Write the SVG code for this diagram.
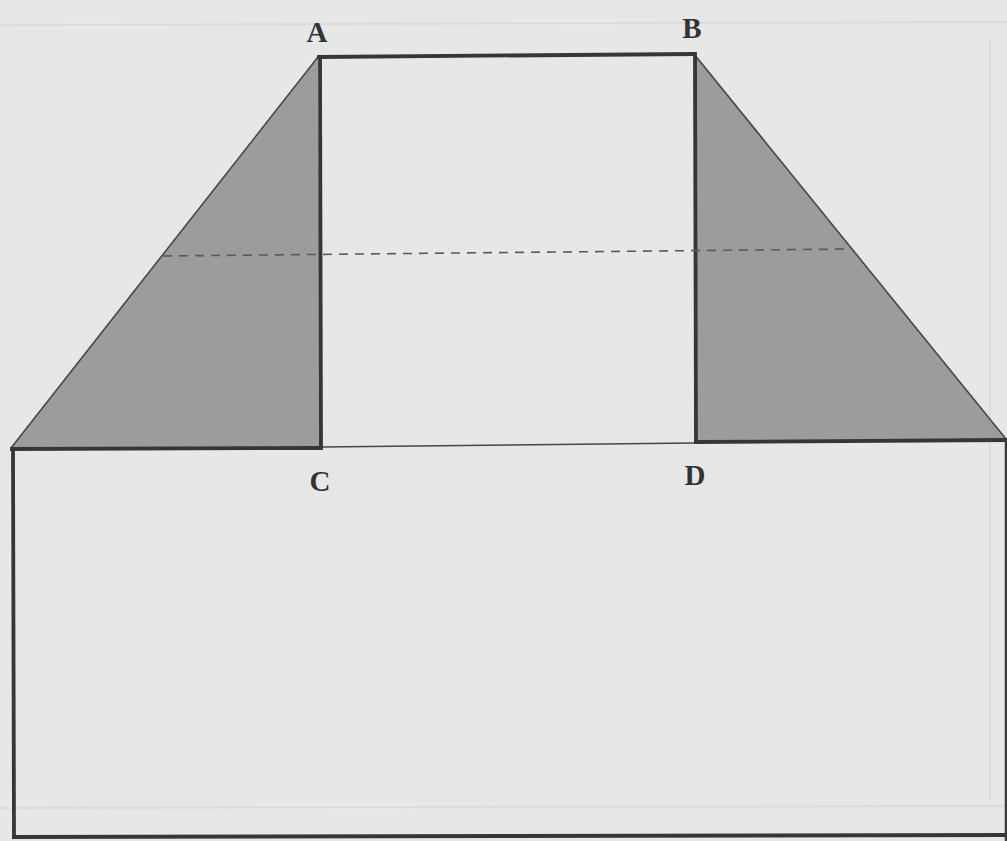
<svg xmlns="http://www.w3.org/2000/svg" width="1007" height="841" viewBox="0 0 1007 841">
  <defs>
    <style>
      .bg { fill: #e7e7e7; }
      .shade { fill: #9c9c9c; stroke: none; }
      .thick { stroke: #363636; stroke-width: 3.8; fill: none; stroke-linecap: square; }
      .thin { stroke: #474747; stroke-width: 1.6; fill: none; }
      .dash { stroke: #5a5a5a; stroke-width: 1.6; fill: none; stroke-dasharray: 9 7; }
      .label { font-family: "Liberation Serif", serif; font-weight: bold; font-size: 29px; fill: #333; text-anchor: middle; }
    </style>
  </defs>
  <rect class="bg" x="0" y="0" width="1007" height="841"/>
  <g id="background-showthrough">
    <line x1="0" y1="25" x2="1007" y2="22" stroke="#dcdcdc" stroke-width="2"/>
    <line x1="990" y1="40" x2="990" y2="800" stroke="#dcdcdc" stroke-width="2"/>
    <line x1="0" y1="808" x2="1007" y2="806" stroke="#dcdcdc" stroke-width="2"/>
  </g>
  <g id="left-flap">
    <polygon class="shade" points="318,57 11,448 321,448"/>
    <line class="thin" x1="318" y1="57" x2="11" y2="448"/>
  </g>
  <g id="right-flap">
    <polygon class="shade" points="694,54 1006,439 696,442"/>
    <line class="thin" x1="694" y1="54" x2="1006" y2="439"/>
  </g>
  <g id="center-panel">
    <line class="thick" x1="319" y1="57" x2="694" y2="54"/>
    <line class="thick" x1="320" y1="57" x2="321" y2="447"/>
    <line class="thick" x1="695" y1="54" x2="696" y2="442"/>
    <line class="thin" x1="322" y1="447" x2="695" y2="443"/>
  </g>
  <g id="base-panel">
    <line class="thick" x1="12" y1="449" x2="321" y2="448"/>
    <line class="thick" x1="696" y1="442" x2="1005" y2="440"/>
    <line class="thick" x1="13" y1="449" x2="14" y2="837"/>
    <line x1="1006" y1="440" x2="1006" y2="841" stroke="#3a3a3a" stroke-width="2.5"/>
    <line class="thick" x1="14" y1="837" x2="1007" y2="835"/>
  </g>
  <g id="connectors">
    <line class="dash" x1="163" y1="256" x2="852" y2="249"/>
  </g>
  <g id="labels">
    <text class="label" x="317" y="42">A</text>
    <text class="label" x="692" y="38">B</text>
    <text class="label" x="320" y="491">C</text>
    <text class="label" x="695" y="485">D</text>
  </g>
</svg>
